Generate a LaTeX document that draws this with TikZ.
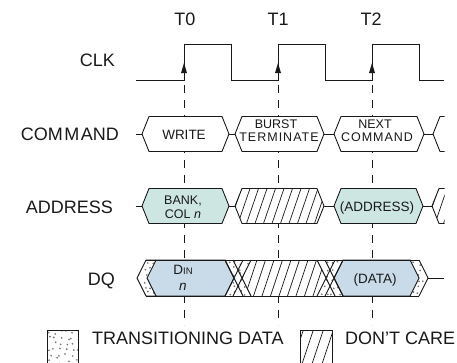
\documentclass[tikz,border=0pt]{standalone}
\usepackage{fontspec}
\setmainfont{Liberation Sans}
\newfontfamily\spacedfont[LetterSpace=8]{Liberation Sans}
\definecolor{adrfill}{RGB}{205,230,226}
\definecolor{dqfill}{RGB}{201,219,233}
\definecolor{ink}{RGB}{25,25,25}
\tikzset{
  sig/.style={draw=ink, line width=0.9pt},
  dashline/.style={draw=ink, line width=0.8pt, dash pattern=on 8pt off 7pt},
  hatchline/.style={draw=ink, line width=0.7pt},
  lbl/.style={inner sep=0pt, font=\fontsize{18}{20}\selectfont, text=ink},
  intext/.style={inner sep=0pt, font=\fontsize{13.5}{15}\selectfont, text=ink},
  midtext/.style={inner sep=0pt, font=\fontsize{12.5}{14}\selectfont, text=ink},
  smtext/.style={inner sep=0pt, font=\fontsize{12.5}{14}\selectfont, text=ink},
  dotc/.style={fill=black!55},
}
% hexagon: style, xl, xr, ym, half height, slant
\newcommand\hexdraw[6]{\path[#1] (#2,#4) -- ({#2+#6},{#4-#5}) -- ({#3-#6},{#4-#5}) -- (#3,#4) -- ({#3-#6},{#4+#5}) -- ({#2+#6},{#4+#5}) -- cycle;}
% hatch lines: x start, y bottom, height
\newcommand\hatchfill[3]{\foreach \i in {0,...,14}{\pgfmathsetmacro\hx{#1-14+8.5*\i}\draw[hatchline] (\hx,#2) -- ++(12,-#3);}}
% hatched hexagon: xl, xr, ym, h, d
\newcommand\hatchhex[5]{%
  \hexdraw{fill=white}{#1}{#2}{#3}{#4}{#5}
  \begin{scope}\hexdraw{clip}{#1}{#2}{#3}{#4}{#5}\hatchfill{#1}{#3+#4}{2*#4}\end{scope}
  \hexdraw{sig}{#1}{#2}{#3}{#4}{#5}}
% stipple dots from top-left corner
\newcommand\stip[2]{\foreach \ix in {0,...,7}{\foreach \iy in {0,...,6}{%
  \pgfmathsetmacro\sx{#1+6*\ix+2.2*rand}\pgfmathsetmacro\sy{#2+6*\iy+2.2*rand}%
  \fill[dotc] (\sx,\sy) circle (0.95pt);}}}
\begin{document}
\begin{tikzpicture}[x=1pt,y=-1pt]
\useasboundingbox (0,0) rectangle (457,362);
\clip (0,0) rectangle (457,362);
\pgfmathsetseed{4711}
% ---- labels
\node[lbl, anchor=base] (t0) at (185,25.5) {T0};
\node[lbl, anchor=base] (t1) at (278,25.5) {T1};
\node[lbl, anchor=base] (t2) at (371,25.5) {T2};
\node[lbl, anchor=base east] (clk) at (115,66.5) {CLK};
\node[lbl, anchor=base east] (cmd) at (119,140.5) {COM\kern1.5pt M\kern1.5pt AND};
\node[lbl, anchor=base east] (adr) at (113,213.5) {ADDRESS};
\node[lbl, anchor=base east] (dq) at (115,285.5) {DQ};
% ---- dashed time markers
\foreach \x in {184,278,372} \draw[dashline] (\x,85) -- (\x,325);
% ---- clock
\draw[sig] (136,80) -- (184,80) -- (184,44) -- (231,44) -- (231,80) -- (278,80) -- (278,44) -- (325,44) -- (325,80) -- (372,80) -- (372,44) -- (419,44) -- (419,80) -- (444,80);
\foreach \x in {184,278,372} \fill[ink] (\x,63) -- ({\x-3},73) -- ({\x+3},73) -- cycle;
% ---- command row
\draw[sig] (136,134) -- (142,134);
\hexdraw{sig,fill=white}{142}{229}{134}{17.5}{7}
\draw[sig] (229,134) -- (235,134);
\hexdraw{sig,fill=white}{235}{324}{134}{17.5}{7}
\draw[sig] (324,134) -- (334,134);
\hexdraw{sig,fill=white}{334}{424}{134}{17.5}{7}
\draw[sig] (424,134) -- (433,134);
\begin{scope}
  \clip (0,0) rectangle (444.5,362);
  \hexdraw{sig,fill=white}{433}{520}{134}{17.5}{7}
\end{scope}
\node[intext, anchor=base] (write) at (184,139) {WRITE};
\node[smtext, anchor=base] (burst) at (276,128) {BURST};
\node[smtext, anchor=base] (term) at (279,141.5) {\spacedfont TERMINATE};
\node[smtext, anchor=base] (next) at (375,128) {NEXT};
\node[smtext, anchor=base] (ncmd) at (377,141.5) {\spacedfont COMMAND};
% ---- address row
\draw[sig] (136,206) -- (142,206);
\hexdraw{sig,fill=adrfill}{142}{229}{206}{17.5}{7}
\draw[sig] (229,206) -- (235,206);
\hatchhex{235}{324}{206}{17.5}{7}
\draw[sig] (324,206) -- (334,206);
\hexdraw{sig,fill=adrfill}{334}{423}{206}{17.5}{7}
\draw[sig] (423,206) -- (432,206);
\begin{scope}
  \clip (0,0) rectangle (444.5,362);
  \hatchhex{432}{520}{206}{17.5}{7}
\end{scope}
\node[midtext, anchor=base] (bank) at (183,204.5) {BANK,};
\node[midtext, anchor=base] (col) at (183,218.5) {COL \textit{n}};
\node[intext, anchor=base] (addr) at (377,211) {(ADDRESS)};
% ---- DQ row
% stippled transition regions
\begin{scope}
  \clip (137,278) -- (146,260) -- (156,260) -- (147,278) -- (156,296) -- (146,296) -- cycle;
  \stip{134}{257}
\end{scope}
\begin{scope}
  \clip (225,260) -- (251,260) -- (242,278) -- (251,296) -- (225,296) -- (234,278) -- cycle;
  \stip{222}{257}
\end{scope}
\begin{scope}
  \clip (317,260) -- (343,260) -- (334,278) -- (343,296) -- (317,296) -- (326,278) -- cycle;
  \stip{314}{257}
\end{scope}
\begin{scope}
  \clip (410,260) -- (419,260) -- (428,278) -- (419,296) -- (410,296) -- (419,278) -- cycle;
  \stip{407}{257}
\end{scope}
% valid data boxes
\path[sig, fill=dqfill] (147,278) -- (156,260) -- (225,260) -- (234,278) -- (225,296) -- (156,296) -- cycle;
\path[sig, fill=dqfill] (334,278) -- (343,260) -- (410,260) -- (419,278) -- (410,296) -- (343,296) -- cycle;
% don't care region
\path[fill=white] (242,278) -- (251,260) -- (317,260) -- (326,278) -- (317,296) -- (251,296) -- cycle;
\begin{scope}
  \clip (242,278) -- (251,260) -- (317,260) -- (326,278) -- (317,296) -- (251,296) -- cycle;
  \hatchfill{242}{296}{36}
\end{scope}
% outlines
\draw[sig] (156,260) -- (146,260) -- (137,278) -- (146,296) -- (156,296);
\draw[sig] (146,260) -- (419,260) (146,296) -- (419,296);
\draw[sig] (225,260) -- (243,296) (225,296) -- (243,260);
\draw[sig] (233,260) -- (251,296) (233,296) -- (251,260);
\draw[sig] (317,260) -- (335,296) (317,296) -- (335,260);
\draw[sig] (325,260) -- (343,296) (325,296) -- (343,260);
\draw[sig] (419,260) -- (428,278) -- (419,296);
\draw[sig] (428,278) -- (444,278);
\node[intext, anchor=base] (din) at (183,274) {D{\fontsize{9.5}{10}\selectfont IN}};
\node[intext, anchor=base] (dn) at (183,290.5) {\textit{n}};
\node[intext, anchor=base] (data) at (375,283) {(DATA)};
% ---- legend
\path[fill=white] (47,330) rectangle (78,370);
\begin{scope}
  \clip (47,330) rectangle (78,370);
  \stip{49}{332}
\end{scope}
\draw[sig] (47,370) -- (47,330) -- (78,330) -- (78,370);
\node[lbl, anchor=base west] (ltrans) at (92,344.5) {TRANSITIONING DATA};
\path[fill=white] (300,330) rectangle (332,370);
\begin{scope}
  \clip (300,330) rectangle (332,370);
  \foreach \i in {0,...,4}{\pgfmathsetmacro\hx{292+10*\i}\draw[hatchline] (\hx,364) -- ++(12,-36);}
\end{scope}
\draw[sig] (300,370) -- (300,330) -- (332,330) -- (332,370);
\node[lbl, anchor=base west] (ldc) at (345,344.5) {DON’T CARE};
\end{tikzpicture}
\end{document}
